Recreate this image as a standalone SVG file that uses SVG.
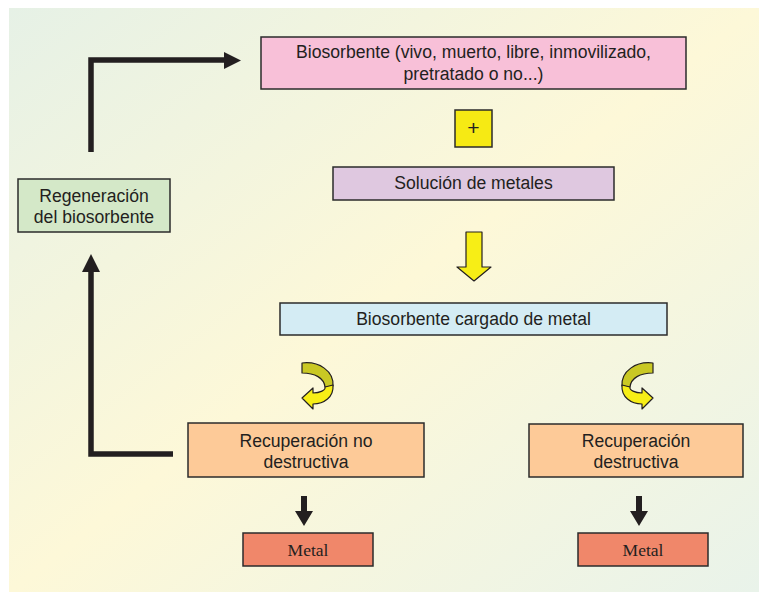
<svg xmlns="http://www.w3.org/2000/svg" width="759" height="592" viewBox="0 0 759 592">
<defs>
<linearGradient id="bg" x1="0" y1="0" x2="1" y2="1">
<stop offset="0" stop-color="#e6f1e6"/>
<stop offset="0.5" stop-color="#fdf8d8"/>
<stop offset="1" stop-color="#e9f3ea"/>
</linearGradient>
<g id="curl">
<path class="olive" d="M302,363 C319,361 334,371 333,386 L325,387 C324,378 315,373 302,373 Z"/>
<path class="yel" d="M333,385 C334,397 324,404 313,404 L313,409 L302,398 L313,388 L313,393 C320,393 326,390 325,387 Z"/>
</g>
</defs>
<style>
.box{stroke:#2b2b2b;stroke-width:1.5}
.t{font-family:"Liberation Sans",Arial,sans-serif;font-size:17.6px;fill:#231f20;text-anchor:middle}
.m{font-family:"Liberation Serif","Times New Roman",serif;font-size:17.5px;fill:#231f20;text-anchor:middle}
.olive{fill:#c9c824;stroke:#231f20;stroke-width:1.2;stroke-linejoin:round}
.yel{fill:#f7ee16;stroke:#231f20;stroke-width:1.2;stroke-linejoin:round}
.blk{fill:#231f20}
.line{fill:none;stroke:#231f20;stroke-width:5.5}
</style>
<rect x="9" y="8" width="750" height="584" fill="url(#bg)"/>

<g id="connectors">
<path class="line" d="M91,152 L91,60 L226,60"/>
<polygon class="blk" points="224,52 241,60.5 224,69"/>
<path class="line" d="M173,454 L91,454 L91,270"/>
<polygon class="blk" points="82,272 91,254 100,272"/>
<path class="yel" d="M466,232 L482,232 L482,267 L491,267 L474,281 L457,267 L466,267 Z"/>
<use href="#curl"/>
<use href="#curl" transform="translate(955,0) scale(-1,1)"/>
<polygon class="blk" points="301,496 307,496 307,511 313,511 304,526 295,511 301,511"/>
<polygon class="blk" points="636,496 642,496 642,511 648,511 639,526 630,511 636,511"/>
</g>

<g id="biosorbente">
<rect class="box" x="261" y="37" width="425" height="52" fill="#f8c0d8"/>
<text class="t" x="473.5" y="58">Biosorbente (vivo, muerto, libre, inmovilizado,</text>
<text class="t" x="473.5" y="80">pretratado o no...)</text>
</g>
<g id="plus">
<rect class="box" x="455" y="110" width="37" height="37" fill="#f6ea14"/>
<text class="t" x="473.5" y="135" style="font-size:21px">+</text>
</g>
<g id="solucion">
<rect class="box" x="333" y="167" width="281" height="33" fill="#dfc8e0"/>
<text class="t" x="473.5" y="189">Solución de metales</text>
</g>
<g id="cargado">
<rect class="box" x="280" y="303" width="387" height="32" fill="#d4ecf4"/>
<text class="t" x="473.5" y="325">Biosorbente cargado de metal</text>
</g>
<g id="regeneracion">
<rect class="box" x="18" y="179" width="152" height="53" fill="#d4e8c8"/>
<text class="t" x="94" y="202">Regeneración</text>
<text class="t" x="94" y="223">del biosorbente</text>
</g>
<g id="no-destructiva">
<rect class="box" x="188" y="423" width="236" height="54" fill="#fdca98"/>
<text class="t" x="306" y="447">Recuperación no</text>
<text class="t" x="306" y="468">destructiva</text>
</g>
<g id="destructiva">
<rect class="box" x="529" y="424" width="214" height="53" fill="#fdca98"/>
<text class="t" x="636" y="447">Recuperación</text>
<text class="t" x="636" y="468">destructiva</text>
</g>
<g id="metal-left">
<rect class="box" x="243" y="533" width="130" height="33" fill="#f0876a"/>
<text class="m" x="308" y="556">Metal</text>
</g>
<g id="metal-right">
<rect class="box" x="578" y="533" width="130" height="33" fill="#f0876a"/>
<text class="m" x="643" y="556">Metal</text>
</g>
</svg>
